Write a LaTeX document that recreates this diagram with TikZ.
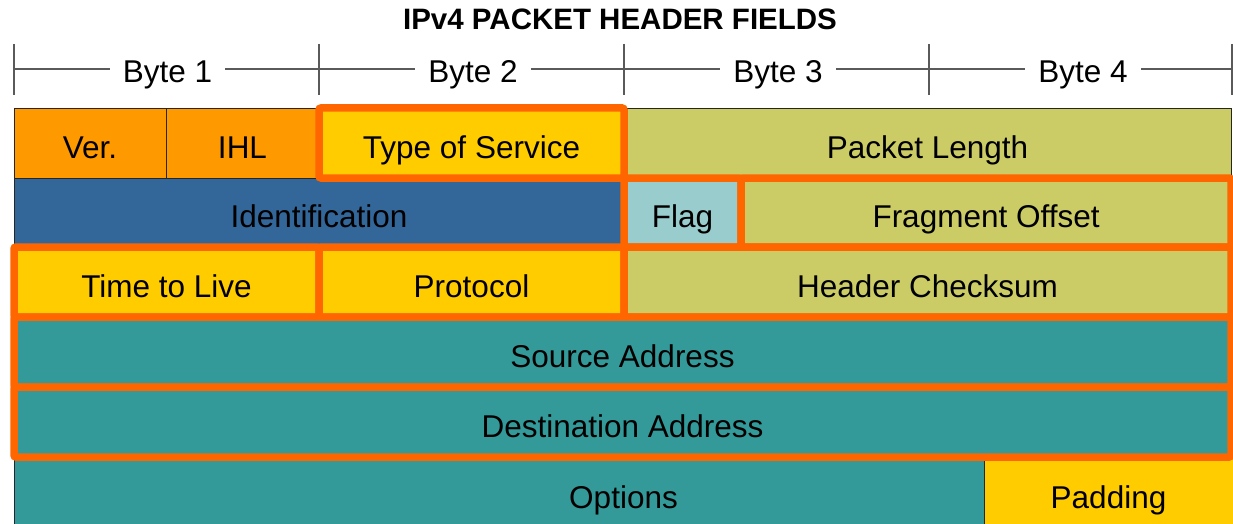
\documentclass[tikz,border=0pt]{standalone}
\usepackage{fontspec}
\setmainfont{Liberation Sans}
\usetikzlibrary{positioning}
\definecolor{hdrorange}{RGB}{255,153,0}
\definecolor{hdryellow}{RGB}{255,204,0}
\definecolor{hdrolive}{RGB}{204,204,102}
\definecolor{hdrblue}{RGB}{51,102,153}
\definecolor{hdrpale}{RGB}{153,204,204}
\definecolor{hdrteal}{RGB}{51,153,153}
\definecolor{hdrhilite}{RGB}{255,102,0}
\definecolor{hdrgray}{RGB}{90,90,90}

\begin{document}
\begin{tikzpicture}[x=1pt,y=-1pt,font=\fontsize{31.5}{36}\selectfont,
    field/.style={draw=black!85,line width=0.8pt,anchor=north west,inner sep=0pt,
      outer sep=0pt,minimum height=70pt,text height=30pt,text depth=0pt},
    hilite/.style={draw=hdrhilite,line width=7.5pt,rounded corners=2pt},
    ruler/.style={draw=hdrgray,line width=1.5pt}]
  \useasboundingbox (0,0) rectangle (1233,524);
  \node[font=\fontsize{29.5}{34}\selectfont\bfseries,anchor=base] (title) at (620,30)
      {IPv4 PACKET HEADER FIELDS};

  % byte ruler
  \draw[ruler] (14,69) -- (1233,69);
  \foreach \x in {14,319,624,929,1232}
    \draw[ruler] (\x,44) -- (\x,95);
  \foreach \n/\x in {1/167.5,2/473,3/778,4/1083}
    \node[fill=white,anchor=base,inner xsep=13pt,inner ysep=2pt] (byte\n) at (\x,83) {Byte \n};

  % header fields
  \foreach \nm/\x/\y/\w/\h/\col/\txt in {
      ver/14/108/152/70/hdrorange/Ver.,
      ihl/166/108/153/70/hdrorange/IHL,
      tos/319/108/305/70/hdryellow/Type of Service,
      len/624/108/607/70/hdrolive/Packet Length,
      ident/14/178/610/69/hdrblue/Identification,
      flag/624/178/117/69/hdrpale/Flag,
      frag/741/178/490/69/hdrolive/Fragment Offset,
      ttl/14/247/305/70/hdryellow/Time to Live,
      proto/319/247/305/70/hdryellow/Protocol,
      chk/624/247/607/70/hdrolive/Header Checksum,
      src/14/317/1217/70/hdrteal/Source Address,
      dst/14/387/1217/70/hdrteal/Destination Address,
      opts/14/458/1219/70/hdrteal/Options,
      pad/984/458/249/70/hdryellow/Padding}
    \node[field,fill=\col,minimum width=\w,minimum height=\h] (\nm) at (\x,\y) {\txt};

  % highlighted fields
  \foreach \nm in {tos,flag,frag,ttl,proto,chk,src,dst}
    \draw[hilite] (\nm.north west) rectangle (\nm.south east);
\end{tikzpicture}
\end{document}
